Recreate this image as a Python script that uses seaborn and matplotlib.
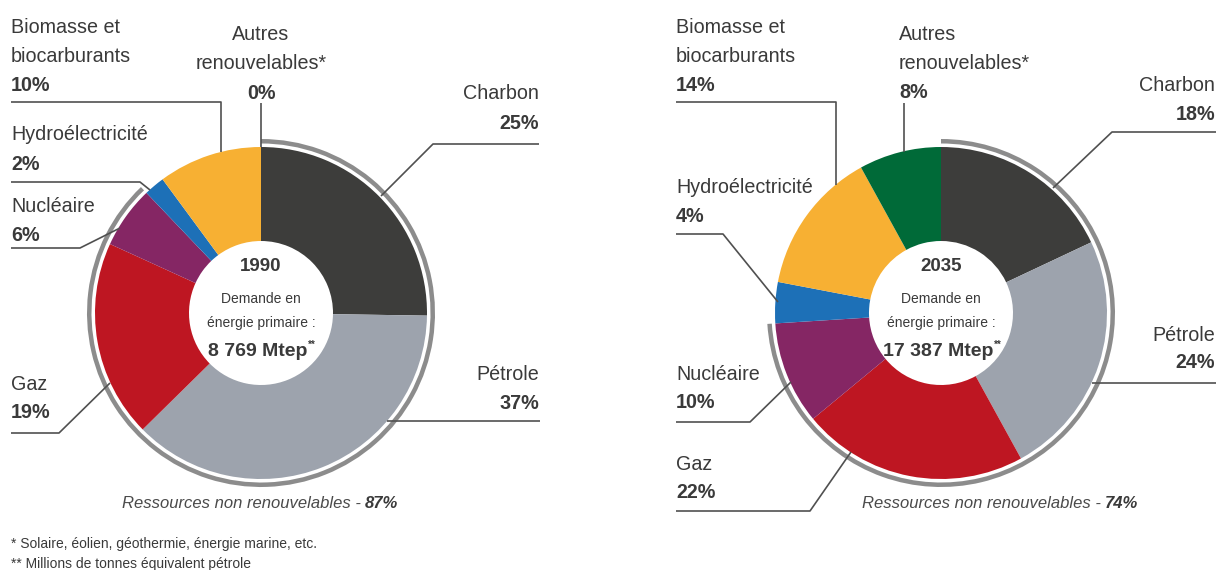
import matplotlib
matplotlib.use("Agg")
import matplotlib.pyplot as plt
from matplotlib.patches import Wedge
import seaborn as sns

# ---------------- data ----------------
categories = ["Charbon", "Pétrole", "Gaz", "Nucléaire", "Hydroélectricité",
              "Biomasse et\nbiocarburants", "Autres\nrenouvelables*"]
values_1990 = [25, 37, 19, 6, 2, 10, 0]
values_2035 = [18, 24, 22, 10, 4, 14, 8]
years = ["1990", "2035"]
demand = ["8 769 Mtep", "17 387 Mtep"]
n_nonrenew = 4  # Charbon, Pétrole, Gaz, Nucléaire
footnotes = ["* Solaire, éolien, géothermie, énergie marine, etc.",
             "** Millions de tonnes équivalent pétrole"]

colors = ["#3d3d3b", "#9da3ad", "#be1622", "#852664", "#1d70b7", "#f7b033", "#006a38"]

# ---------------- style ----------------
sns.set_theme(style="white")
plt.rcParams["font.family"] = ["Liberation Sans", "DejaVu Sans"]
TXT = "#3a3a3a"
LINE = "#505050"
W, H = 1216, 570

fig = plt.figure(figsize=(W / 100, H / 100), dpi=100)
ax = fig.add_axes([0, 0, 1, 1])
ax.set_xlim(0, W)
ax.set_ylim(0, H)
ax.set_autoscale_on(False)
ax.axis("off")


def Y(y):
    return H - y


# layout per chart: label anchor x, alignment, baselines for name lines, pct baseline, leader polyline
layouts = [
    {
        "cx": 261, "cy": 313, "sub_x": 122,
        "labels": [
            (539, "right", [99], 129, [(539, 144), (433, 144), (381, 196)]),
            (539, "right", [380], 409, [(540, 421), (387, 421)]),
            (11, "left", [390], 418, [(11, 433), (59, 433), (110, 383)]),
            (11, "left", [212], 241, [(11, 248), (80, 248), (120, 228)]),
            (11, "left", [140], 170, [(11, 182), (140, 182), (150, 190)]),
            (11, "left", [33, 62], 91, [(11, 102), (221, 102), (221, 152)]),
            (261, "center", [40, 69], 99, [(261, 103), (261, 147)]),
        ],
    },
    {
        "cx": 941, "cy": 313, "sub_x": 862,
        "labels": [
            (1215, "right", [91], 120, [(1216, 132), (1112, 132), (1053, 188)]),
            (1215, "right", [341], 368, [(1092, 383), (1216, 383)]),
            (676, "left", [470], 498, [(676, 511), (810, 511), (851, 452)]),
            (676, "left", [380], 408, [(676, 422), (750, 422), (791, 382)]),
            (676, "left", [193], 222, [(676, 234), (723, 234), (778, 302)]),
            (676, "left", [33, 62], 91, [(676, 102), (836, 102), (836, 185)]),
            (899, "left", [40, 69], 98, [(904, 103), (904, 152)]),
        ],
    },
]

R_OUT, R_IN = 166, 72

pending = []  # texts placed relative to other texts after a first draw

for vals, year, dem, lay in zip([values_1990, values_2035], years, demand, layouts):
    cx, cy = lay["cx"], lay["cy"]
    ax.pie(vals, colors=colors, startangle=90, counterclock=False,
           radius=R_OUT, center=(cx, Y(cy)), frame=True, normalize=True,
           wedgeprops=dict(width=R_OUT - R_IN, edgecolor="none", linewidth=0))

    # arc for non-renewable resources
    frac = sum(vals[:n_nonrenew]) / sum(vals)
    ax.add_patch(Wedge((cx, Y(cy)), 174, 90 - 360 * frac + 360, 450, width=4.5,
                       facecolor="#8c8c8c", edgecolor="none"))

    # labels
    for cat, v, (lx, ha, bls, pbl, leader) in zip(categories, vals, lay["labels"]):
        for line, bl in zip(cat.split("\n"), bls):
            ax.text(lx, Y(bl), line, ha=ha, va="baseline", fontsize=14.2, color=TXT)
        ax.text(lx, Y(pbl), f"{v}%", ha=ha, va="baseline", fontsize=14.2,
                fontweight="bold", color=TXT)
        xs = [p[0] for p in leader]
        ys = [Y(p[1]) for p in leader]
        ax.plot(xs, ys, color=LINE, lw=1.2, solid_capstyle="butt")

    # centre text
    ax.text(cx, Y(271), year, ha="center", va="baseline", fontsize=13.5,
            fontweight="bold", color=TXT)
    ax.text(cx, Y(303), "Demande en", ha="center", va="baseline", fontsize=10, color=TXT)
    ax.text(cx, Y(327), "énergie primaire :", ha="center", va="baseline", fontsize=10, color=TXT)
    t = ax.text(cx - 3, Y(356), dem, ha="center", va="baseline", fontsize=14,
                fontweight="bold", color=TXT)
    pending.append((t, "sup", None))

    # subtitle
    pct_nr = sum(vals[:n_nonrenew])
    s = ax.text(lay["sub_x"], Y(508), "Ressources non renouvelables -", ha="left",
                va="baseline", fontsize=12, style="italic", color="#4a4a4a")
    pending.append((s, "pct", f"{pct_nr}%"))

for fn, bl in zip(footnotes, [548, 568]):
    ax.text(11, Y(bl), fn, ha="left", va="baseline", fontsize=10, color=TXT)

fig.canvas.draw()
renderer = fig.canvas.get_renderer()
inv = ax.transData.inverted()
for art, kind, txt in pending:
    bb = art.get_window_extent(renderer)
    x1, y1 = inv.transform((bb.x1, bb.y1))
    if kind == "sup":
        ax.text(x1 + 0.5, Y(356) + 16, "**", ha="left", va="top", fontsize=7,
                fontweight="bold", color=TXT)
    else:
        ax.text(x1 + 4, Y(508), txt, ha="left", va="baseline", fontsize=12,
                style="italic", fontweight="bold", color="#3a3a3a")

fig.savefig("out.png", dpi=100, facecolor="white")
